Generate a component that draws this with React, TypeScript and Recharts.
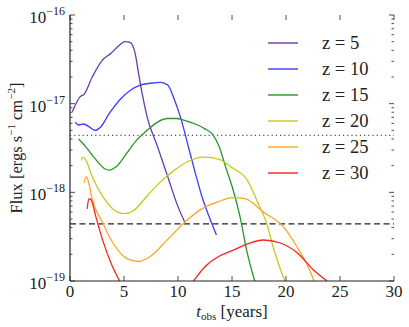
import { LineChart, Line, XAxis, YAxis, ReferenceLine } from "recharts";

// observed time [years] and flux [ergs s^-1 cm^-2] per redshift
const z5Time = [0.22, 0.95, 1.27, 2.06, 3.0, 3.8, 4.6, 5.08, 5.56, 6.03, 6.35, 6.67, 7.14, 8.1, 9.05, 10.0, 10.63];
const z5Flux = [8.1e-18, 1.2e-17, 1.26e-17, 2.0e-17, 3.1e-17, 3.7e-17, 4.6e-17, 5.0e-17, 4.9e-17, 3.7e-17, 2.2e-17, 1.32e-17, 7.1e-18, 3.3e-18, 1.5e-18, 6.9e-19, 4.6e-19];

const z10Time = [0.48, 0.8, 1.27, 1.75, 2.32, 2.86, 3.65, 4.6, 5.56, 6.5, 7.46, 8.4, 9.05, 9.68, 10.3, 10.95, 11.6, 12.2, 12.86, 13.56];
const z10Flux = [6.2e-18, 5.75e-18, 5.9e-18, 5.5e-18, 5.0e-18, 5.5e-18, 7.8e-18, 1.1e-17, 1.41e-17, 1.62e-17, 1.7e-17, 1.74e-17, 1.62e-17, 1.1e-17, 6.6e-18, 3.3e-18, 1.66e-18, 9.1e-19, 5.4e-19, 3.3e-19];

const z15Time = [0.8, 1.43, 2.38, 3.17, 3.65, 4.29, 5.24, 6.19, 7.14, 8.1, 9.05, 9.84, 10.6, 11.6, 12.5, 13.2, 13.8, 14.4, 15.1, 15.7, 16.4, 17.1];
const z15Flux = [4.0e-18, 3.3e-18, 2.35e-18, 1.86e-18, 1.78e-18, 1.95e-18, 2.75e-18, 3.9e-18, 5.0e-18, 6.2e-18, 6.8e-18, 6.8e-18, 6.5e-18, 5.9e-18, 5.2e-18, 4.5e-18, 3.3e-18, 1.95e-18, 1.07e-18, 5.6e-19, 2.1e-19, 1.0e-19];

const z20Time = [1.05, 1.17, 1.43, 2.06, 3.0, 3.97, 5.08, 5.87, 7.14, 8.4, 9.68, 10.95, 12.5, 13.8, 15.0, 16.4, 17.3, 18.2, 18.8, 19.4, 19.9];
const z20Flux = [2.3e-18, 2.5e-18, 2.35e-18, 1.5e-18, 9.1e-19, 6.5e-19, 5.75e-19, 6.2e-19, 9.1e-19, 1.32e-18, 1.78e-18, 2.24e-18, 2.5e-18, 2.35e-18, 1.9e-18, 1.38e-18, 8.1e-19, 4.5e-19, 2.45e-19, 1.45e-19, 1.0e-19];

const z25Time = [1.33, 1.49, 1.68, 2.06, 3.0, 3.97, 5.24, 6.35, 7.46, 9.05, 10.63, 12.2, 13.8, 15.0, 16.2, 17.9, 19.75, 21.0, 21.9, 22.6];
const z25Flux = [1.29e-18, 1.5e-18, 1.35e-18, 8.3e-19, 4.6e-19, 2.7e-19, 1.8e-19, 1.66e-19, 1.9e-19, 2.95e-19, 4.6e-19, 6.5e-19, 7.9e-19, 8.7e-19, 8.5e-19, 6.0e-19, 4.1e-19, 2.45e-19, 1.58e-19, 1.0e-19];

// z = 30 drops below the axis between ~5 and ~11 years
const z30EarlyTime = [1.59, 1.75, 1.94, 2.38, 3.0, 3.81, 4.6];
const z30EarlyFlux = [6.5e-19, 8.5e-19, 8.3e-19, 5.4e-19, 2.95e-19, 1.58e-19, 1.0e-19];
const z30LateTime = [11.43, 12.5, 13.8, 15.0, 16.4, 17.9, 19.4, 21.0, 22.5, 23.8];
const z30LateFlux = [1.0e-19, 1.45e-19, 1.9e-19, 2.2e-19, 2.6e-19, 2.9e-19, 2.7e-19, 2.1e-19, 1.35e-19, 1.0e-19];

const redshifts = ["5", "10", "15", "20", "25", "30"];
const colors = ["#6a3aa8", "#3c3cff", "#289628", "#c8c81e", "#ffa51e", "#ff2222"];

const xTicks = [0, 5, 10, 15, 20, 25, 30];
const decades = [-19, -18, -17, -16];
const detectionLimits = [4.4e-18, 4.4e-19];

const yTicks: number[] = [];
decades.forEach((d) => {
  yTicks.push(Math.pow(10, d));
  if (d < -16) for (let m = 2; m <= 9; m++) yTicks.push(m * Math.pow(10, d));
});

const toPoints = (t: number[], f: number[]) => t.map((x, i) => ({ t: x, flux: f[i] }));

const series = [
  { data: toPoints(z5Time, z5Flux), color: colors[0] },
  { data: toPoints(z10Time, z10Flux), color: colors[1] },
  { data: toPoints(z15Time, z15Flux), color: colors[2] },
  { data: toPoints(z20Time, z20Flux), color: colors[3] },
  { data: toPoints(z25Time, z25Flux), color: colors[4] },
  { data: toPoints(z30EarlyTime, z30EarlyFlux), color: colors[5] },
  { data: toPoints(z30LateTime, z30LateFlux), color: colors[5] },
];

const W = 409;
const H = 327;
const PL = 70;
const PR = 394;
const PT = 15;
const PB = 281;
const FONT = "'Liberation Serif', 'DejaVu Serif', serif";
const INK = "#222";

function YTick({ y, payload }: any) {
  const v = payload.value as number;
  const e = Math.log10(v);
  const major = Math.abs(e - Math.round(e)) < 1e-6;
  const len = major ? 5 : 2.5;
  return (
    <g>
      <line x1={PL} x2={PL + len} y1={y} y2={y} stroke={INK} strokeWidth={0.8} />
      <line x1={PR - len} x2={PR} y1={y} y2={y} stroke={INK} strokeWidth={0.8} />
      {major && (
        <text x={65} y={y + 8} textAnchor="end" fontFamily={FONT} fontSize={17} fill={INK}>
          10
          <tspan dy={-8} fontSize={12}>
            {"\u2212" + Math.round(-e)}
          </tspan>
        </text>
      )}
    </g>
  );
}

function XTick({ x, payload }: any) {
  return (
    <g>
      <line x1={x} x2={x} y1={PB} y2={PB - 5} stroke={INK} strokeWidth={0.8} />
      <line x1={x} x2={x} y1={PT} y2={PT + 5} stroke={INK} strokeWidth={0.8} />
      <text x={x} y={297} textAnchor="middle" fontFamily={FONT} fontSize={17} fill={INK}>
        {payload.value}
      </text>
    </g>
  );
}

function XLabel() {
  return (
    <text x={232} y={317} textAnchor="middle" fontFamily={FONT} fontSize={17} fill={INK}>
      <tspan fontStyle="italic">t</tspan>
      <tspan fontSize={11} dy={3}>obs</tspan>
      <tspan dy={-3}> [years]</tspan>
    </text>
  );
}

function YLabel() {
  return (
    <text
      x={0}
      y={0}
      transform="translate(22,148) rotate(-90)"
      textAnchor="middle"
      fontFamily={FONT}
      fontSize={16.5}
      fill={INK}
    >
      Flux [ergs s<tspan dy={-7} fontSize={11}>{"\u22121"}</tspan>
      <tspan dy={7}> cm</tspan>
      <tspan dy={-7} fontSize={11}>{"\u22122"}</tspan>
      <tspan dy={7}>]</tspan>
    </text>
  );
}

function LegendBox() {
  return (
    <div style={{ position: "absolute", left: 268, top: 30, fontFamily: FONT, fontSize: 18.5, color: INK }}>
      {redshifts.map((z, i) => (
        <div key={z} style={{ display: "flex", alignItems: "center", height: 26 }}>
          <svg width={30} height={4}>
            <line x1={0} x2={30} y1={2} y2={2} stroke={colors[i]} strokeWidth={1.4} />
          </svg>
          <span style={{ marginLeft: 24, whiteSpace: "nowrap" }}>z = {z}</span>
        </div>
      ))}
    </div>
  );
}

export default function App() {
  return (
    <div style={{ position: "absolute", left: 0, top: 0, width: W, height: H, background: "#fff" }}>
      <LineChart width={W} height={H} margin={{ top: PT, right: W - PR, bottom: 6, left: 10 }}>
        <XAxis
          type="number"
          dataKey="t"
          domain={[0, 30]}
          ticks={xTicks}
          height={40}
          axisLine={{ stroke: INK, strokeWidth: 1.2 }}
          tickLine={false}
          tick={<XTick />}
          allowDataOverflow
          label={{ content: <XLabel /> }}
        />
        <XAxis
          xAxisId="top"
          orientation="top"
          type="number"
          dataKey="t"
          domain={[0, 30]}
          height={0}
          tick={false}
          tickLine={false}
          axisLine={{ stroke: INK, strokeWidth: 1.2 }}
        />
        <YAxis
          type="number"
          dataKey="flux"
          scale="log"
          domain={[1e-19, 1e-16]}
          ticks={yTicks}
          interval={0}
          width={60}
          allowDataOverflow
          axisLine={{ stroke: INK, strokeWidth: 1.2 }}
          tickLine={false}
          tick={<YTick />}
          label={{ content: <YLabel /> }}
        />
        <YAxis
          yAxisId="right"
          orientation="right"
          type="number"
          scale="log"
          domain={[1e-19, 1e-16]}
          width={0}
          tick={false}
          tickLine={false}
          axisLine={{ stroke: INK, strokeWidth: 1.2 }}
        />
        <ReferenceLine y={detectionLimits[0]} stroke={INK} strokeWidth={1} strokeDasharray="1.2 3" />
        <ReferenceLine y={detectionLimits[1]} stroke={INK} strokeWidth={1.2} strokeDasharray="6 3.5" />
        {series.map((s, i) => (
          <Line
            key={i}
            data={s.data}
            dataKey="flux"
            type="monotone"
            stroke={s.color}
            strokeWidth={1.3}
            dot={false}
            activeDot={false}
            isAnimationActive={false}
          />
        ))}
      </LineChart>
      <LegendBox />
    </div>
  );
}
